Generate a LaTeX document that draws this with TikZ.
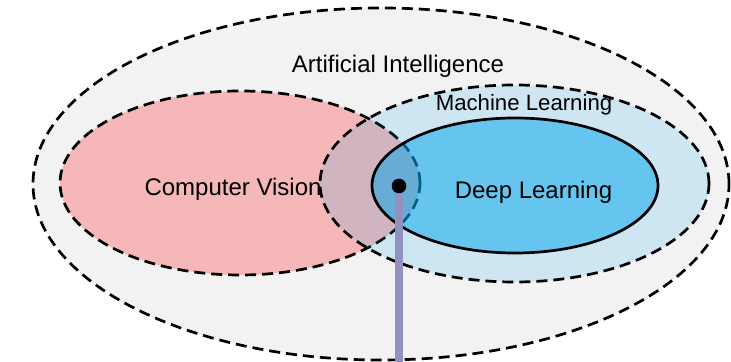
\documentclass[tikz,border=0pt]{standalone}
\usepackage{fontspec}
\setmainfont{Liberation Sans}
\usepackage{xcolor}
\usepackage{tikz}
\usetikzlibrary{shapes.geometric,positioning}

\definecolor{aigray}{RGB}{242,242,242}
\definecolor{cvpink}{RGB}{245,183,184}
\definecolor{mlsky}{RGB}{0,166,236}
\definecolor{stemblue}{RGB}{145,145,196}

\tikzset{
  field/.style = {ellipse, inner sep = 0pt, line width = 1.35pt},
  dashfield/.style = {field, draw, dash pattern = on 5.5pt off 3pt},
  fieldname/.style = {font = \fontsize{12}{14}\selectfont, inner sep = 0pt, anchor = base}
}

\begin{document}
\begin{tikzpicture}[x = 0.5pt, y = -0.5pt]

\useasboundingbox (0,0) rectangle (731,362);

\node[dashfield, fill = aigray, minimum width = 348pt, minimum height = 176pt]
  (AI) at (381,184) {};
\node[dashfield, fill = cvpink, minimum width = 180pt, minimum height = 92pt]
  (CV) at (240,183) {};
\node[dashfield, fill = mlsky, fill opacity = 0.15, minimum width = 194.5pt, minimum height = 98.5pt]
  (ML) at (514.5,183.5) {};
\node[field, draw, fill = mlsky, fill opacity = 0.5, minimum width = 143pt, minimum height = 67.5pt]
  (DL) at (515,185.5) {};

\node[fieldname] (AItext) at (398,73)  {Artificial Intelligence};
\node[fieldname, font = \fontsize{11.1}{14}\selectfont] (MLtext) at (524,111) {Machine Learning};
\node[fieldname] (CVtext) at (233,196) {Computer Vision};
\node[fieldname] (DLtext) at (533.5,199) {Deep Learning};

\node[circle, fill = black, inner sep = 0pt, minimum size = 7.3pt] (dot) at (399,186) {};
\coordinate (foot) at (399,370);
\draw[stemblue, line width = 4pt] (dot.south) -- (foot);

\end{tikzpicture}
\end{document}
